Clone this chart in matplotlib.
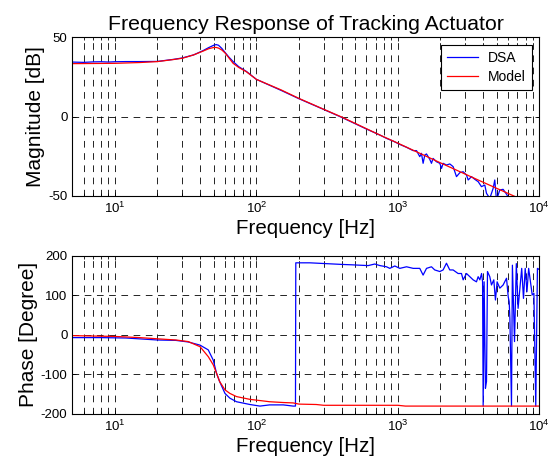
import numpy as np
import matplotlib
matplotlib.use("Agg")
import matplotlib.pyplot as plt

plt.rcParams['font.family'] = ['Liberation Sans', 'DejaVu Sans']
plt.rcParams['mathtext.fontset'] = 'custom'
plt.rcParams['mathtext.rm'] = 'Liberation Sans'
plt.rcParams['mathtext.it'] = 'Liberation Sans:italic'
plt.rcParams['mathtext.bf'] = 'Liberation Sans:bold'
plt.rcParams['axes.unicode_minus'] = False
plt.rcParams['lines.scale_dashes'] = False

# ---------------- data ----------------
title = "Frequency Response of Tracking Actuator"
xlabel = "Frequency [Hz]"
mag_label = "Magnitude [dB]"
phase_label = "Phase [Degree]"
legend_labels = ["DSA", "Model"]

dsa_mag_f = [5, 6, 7, 8, 9, 10, 12, 15, 20, 26, 30, 36, 42, 46, 50, 52, 54, 57, 60, 64,
             68.5, 75, 85, 100, 150, 200, 300, 400, 600, 747, 832, 927, 1033, 1151, 1283,
             1355, 1429, 1469, 1509, 1551, 1594, 1682, 1729, 1775, 1875, 1980, 2036, 2090,
             2207, 2330, 2460, 2598, 2743, 2896, 3057, 3142, 3317, 3500, 3700, 3900, 4120,
             4233, 4468, 4718, 4845, 4980, 5258, 5551, 5860, 6187, 6532, 7000, 8000, 9000, 10000]
dsa_mag = [34.4, 34.2, 34.5, 34.6, 34.4, 34.6, 34.7, 34.7, 34.8, 36.1, 37.0, 38.9, 41.6, 43.5,
           45.0, 45.4, 45.0, 43.0, 40.5, 37.5, 34.7, 31.5, 28.5, 23.5, 16.5, 11.3, 4.5, -0.4,
           -7.8, -11.6, -13.7, -15.4, -17.5, -19.3, -21.4, -21.4, -25.2, -23.1, -29.4, -24.2,
           -23.5, -26.9, -29.4, -26.3, -28.4, -29.4, -32.6, -29.4, -30.5, -29.8, -31.5, -37.8,
           -35.3, -34.7, -36.8, -39.9, -37.8, -39.5, -41.0, -44.1, -43.1, -48.3, -51.5, -45.2,
           -39.9, -52.5, -46.2, -45.8, -48.8, -52.5, -53.6, -55.0, -57.0, -60.0, -62.0]

model_mag_f = [5, 10, 15, 20, 26, 30, 36, 42, 46, 50, 52, 54, 57, 60, 64, 68.5, 75, 85, 100,
               150, 200, 300, 400, 747, 1000, 2000, 4000, 6532, 10000]
model_mag = [33.4, 33.6, 34.1, 34.7, 36.0, 36.8, 38.9, 41.3, 42.8, 43.6, 43.6, 43.2, 42.0,
             40.2, 37.0, 33.6, 31.0, 28.3, 23.5, 16.8, 11.5, 4.6, -0.2, -11.6, -16.7, -29.1,
             -41.3, -49.8, -57.2]

dsa_ph_f = [5, 8, 12, 20, 27, 33, 40, 45.7, 49.6, 52.3, 55, 60, 65, 72.4, 90, 106, 124, 155,
            182, 189, 190, 239, 400, 471, 617, 687, 747, 832, 877, 952, 1033, 1152, 1284, 1429,
            1509, 1595, 1729, 1824, 1981, 2089, 2207, 2329, 2459, 2667, 2818, 2896, 3057, 3228,
            3406, 3596, 3696, 3800, 3908, 3972, 4010, 4074, 4161, 4234, 4303, 4467, 4592, 4768,
            4898, 5033, 5260, 5550, 5865, 6030, 6125, 6195, 6360, 6455, 6680, 6880, 7080, 7510,
            7730, 7950, 8180, 8410, 8910, 9160, 9440, 9700, 10000]
dsa_ph = [-7, -7, -8, -13, -14, -18, -26, -38, -64, -97, -118, -148, -160, -169, -176, -180,
          -177, -177, -180, -180, 182, 182, 178, 177, 175, 179, 175, 172, 168, 174, 168, 172,
          168, 168, 151, 168, 172, 164, 160, 164, 181, 164, 164, 155, 155, 139, 155, 147, 139,
          134, 147, 139, 155, 134, -180, 134, -135, -118, 160, 147, 126, 139, 88, 134, 118,
          126, 143, 96, 84, 42, -180, 176, -17, 180, 67, 168, 92, 168, 109, 168, 101, 105,
          -180, 168, 165]

model_ph_f = [5, 10, 15, 20, 27, 33, 40, 45.7, 49.6, 52.3, 55, 60, 65, 72.4, 90, 106, 124,
              155, 182, 200, 265, 300, 1000, 1130, 10000]
model_ph = [-2, -4, -7, -10, -13, -17, -30, -55, -76, -97, -118, -139, -148, -156, -163, -166,
            -169, -171, -172, -175, -176, -178, -178, -180, -180]

# ---------------- figure ----------------
W, H = 553, 472
fig = plt.figure(figsize=(W / 100, H / 100), dpi=100)

def px_axes(l, t, r, b):
    return fig.add_axes([l / W, 1 - b / H, (r - l) / W, (b - t) / H])

ax1 = px_axes(72.3, 37.3, 539.3, 196)
ax2 = px_axes(72.3, 255.7, 539.3, 414)

blue = '#0000ff'
red = '#ff0000'

ax1.plot(dsa_mag_f, dsa_mag, color=blue, lw=0.9, label=legend_labels[0])
ax1.plot(model_mag_f, model_mag, color=red, lw=0.9, label=legend_labels[1])
ax2.plot(dsa_ph_f, dsa_ph, color=blue, lw=0.9)
ax2.plot(model_ph_f, model_ph, color=red, lw=0.9)

ax1.set_ylim(-50, 50)
ax1.set_yticks([-50, 0, 50])
ax2.set_ylim(-200, 200)
ax2.set_yticks([-200, -100, 0, 100, 200])

for ax in (ax1, ax2):
    ax.set_xscale('log')
    ax.set_xlim(5, 10000)
    ax.grid(True, which='both', axis='x', color='k', lw=0.6, linestyle=(0, (4.8, 4.0)))
    ax.grid(True, which='major', axis='y', color='k', lw=0.6, linestyle=(0, (4.8, 4.0)))
    ax.tick_params(which='both', direction='in', top=True, right=True, labelsize=9.5,
                   width=0.6, color='k')
    ax.tick_params(which='major', length=3)
    ax.tick_params(which='minor', length=2)
    for s in ax.spines.values():
        s.set_linewidth(0.8)
    ax.set_xlabel(xlabel, fontsize=14.8, labelpad=2)

ax1.set_ylabel(mag_label, fontsize=15, labelpad=2)
ax2.set_ylabel(phase_label, fontsize=15, labelpad=2)
ax1.set_title(title, fontsize=15.3, pad=5)

leg = ax1.legend(loc='upper right', fontsize=10, frameon=True, fancybox=False,
                 edgecolor='k', framealpha=1, borderpad=0.45, handlelength=2.2,
                 handletextpad=0.7, labelspacing=0.35, borderaxespad=0.55)
leg.get_frame().set_linewidth(0.8)

fig.savefig("out.png", dpi=100)
